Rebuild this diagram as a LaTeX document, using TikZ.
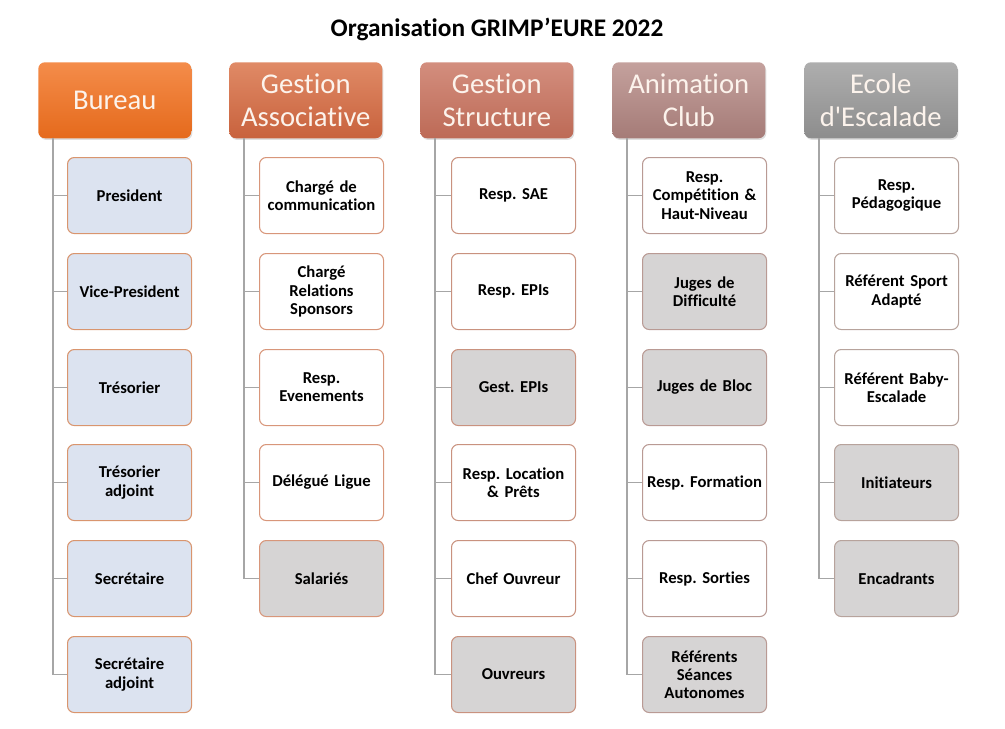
\documentclass[tikz,border=0pt]{standalone}
\usepackage{fontspec}
\setmainfont{Carlito}[Ligatures={CommonOff,TeXOff}]
\usetikzlibrary{shadows}
\frenchspacing
\definecolor{blueF}{HTML}{DCE3F0}
\definecolor{grayF}{HTML}{D6D4D4}
\definecolor{bdA}{HTML}{D9956E}
\definecolor{bdB}{HTML}{D8967A}
\definecolor{bdC}{HTML}{C9927F}
\definecolor{bdD}{HTML}{B99A94}
\definecolor{bdE}{HTML}{B7A39C}
\definecolor{conn}{HTML}{A6A6A6}
\definecolor{htext}{HTML}{FCF3EC}
\definecolor{t1}{HTML}{F48C4A}\definecolor{b1}{HTML}{E56A1C}
\definecolor{t2}{HTML}{E08A66}\definecolor{b2}{HTML}{C8623D}
\definecolor{t3}{HTML}{D38E7E}\definecolor{b3}{HTML}{BD6A56}
\definecolor{t4}{HTML}{C4A19D}\definecolor{b4}{HTML}{A57B77}
\definecolor{t5}{HTML}{AEAEAE}\definecolor{b5}{HTML}{8D8D8D}
\tikzset{
  hdr/.style={rounded corners=5pt, minimum width=114.75pt, minimum height=57pt, anchor=north west,
     text width=112pt, align=center, text=htext, font=\fontsize{21.5}{25}\selectfont,
     drop shadow={opacity=0.25, shadow xshift=0.8pt, shadow yshift=-1.2pt}, inner sep=0pt},
  child/.style={draw, line width=0.8pt, rounded corners=5pt, minimum width=93pt, minimum height=57pt,
     anchor=north west, text width=90pt, align=center, inner sep=0pt,
     font=\bfseries\fontsize{12.5}{13.6}\selectfont},
  wb/.style={child, fill=white},
  gb/.style={child, fill=grayF},
  bb/.style={child, fill=blueF},
  cn/.style={draw=conn, line width=0.8pt},
}
\begin{document}
\begin{tikzpicture}[x=0.75pt,y=-0.75pt]
\useasboundingbox (0,0) rectangle (1005,728);
\node (title) at (497,29) {\bfseries\fontsize{19}{22}\selectfont Organisation GRIMP’EURE 2022};
% headers
\node[hdr, top color=t1, bottom color=b1] (h1) at (38,62) {Bureau};
\node[hdr, top color=t2, bottom color=b2] (h2) at (229,62) {Gestion\\Associative};
\node[hdr, top color=t3, bottom color=b3] (h3) at (420,62) {Gestion\\Structure};
\node[hdr, top color=t4, bottom color=b4] (h4) at (612,62) {Animation\\Club};
\node[hdr, top color=t5, bottom color=b5] (h5) at (804,62) {Ecole\\d'Escalade};
\coordinate (v1) at (53,138);
\coordinate (v2) at (244,138);
\coordinate (v3) at (435,138);
\coordinate (v4) at (627,138);
\coordinate (v5) at (819,138);
% column 1
\node[bb, draw=bdA] (c11) at (67,157) {President};
\node[bb, draw=bdA] (c12) at (67,253) {Vice-President};
\node[bb, draw=bdA] (c13) at (67,349) {Trésorier};
\node[bb, draw=bdA] (c14) at (67,444) {Trésorier\\adjoint};
\node[bb, draw=bdA] (c15) at (67,540) {Secrétaire};
\node[bb, draw=bdA] (c16) at (67,636) {Secrétaire\\adjoint};
% column 2
\node[wb, draw=bdB] (c21) at (259,157) {Chargé de\\communication};
\node[wb, draw=bdB] (c22) at (259,253) {Chargé\\Relations\\Sponsors};
\node[wb, draw=bdB] (c23) at (259,349) {Resp.\\Evenements};
\node[wb, draw=bdB] (c24) at (259,444) {Délégué Ligue};
\node[gb, draw=bdB] (c25) at (259,540) {Salariés};
% column 3
\node[wb, draw=bdC] (c31) at (451,157) {Resp. SAE};
\node[wb, draw=bdC] (c32) at (451,253) {Resp. EPIs};
\node[gb, draw=bdC] (c33) at (451,349) {Gest. EPIs};
\node[wb, draw=bdC] (c34) at (451,444) {Resp. Location\\\& Prêts};
\node[wb, draw=bdC] (c35) at (451,540) {Chef Ouvreur};
\node[gb, draw=bdC] (c36) at (451,636) {Ouvreurs};
% column 4
\node[wb, draw=bdD] (c41) at (642,157) {Resp.\\Compétition \&\\Haut-Niveau};
\node[gb, draw=bdD] (c42) at (642,253) {Juges de\\Difficulté};
\node[gb, draw=bdD] (c43) at (642,349) {Juges de Bloc};
\node[wb, draw=bdD] (c44) at (642,444) {Resp. Formation};
\node[wb, draw=bdD] (c45) at (642,540) {Resp. Sorties};
\node[gb, draw=bdD] (c46) at (642,636) {Référents\\Séances\\Autonomes};
% column 5
\node[wb, draw=bdE] (c51) at (834,157) {Resp.\\Pédagogique};
\node[wb, draw=bdE] (c52) at (834,253) {Référent Sport\\Adapté};
\node[wb, draw=bdE] (c53) at (834,349) {Référent Baby-\\Escalade};
\node[gb, draw=bdE] (c54) at (834,444) {Initiateurs};
\node[gb, draw=bdE] (c55) at (834,540) {Encadrants};
% connectors
\foreach \k in {1,...,6} {\draw[cn] (v1) |- (c1\k.west);}
\foreach \k in {1,...,5} {\draw[cn] (v2) |- (c2\k.west);}
\foreach \k in {1,...,6} {\draw[cn] (v3) |- (c3\k.west);}
\foreach \k in {1,...,6} {\draw[cn] (v4) |- (c4\k.west);}
\foreach \k in {1,...,5} {\draw[cn] (v5) |- (c5\k.west);}
\end{tikzpicture}
\end{document}
